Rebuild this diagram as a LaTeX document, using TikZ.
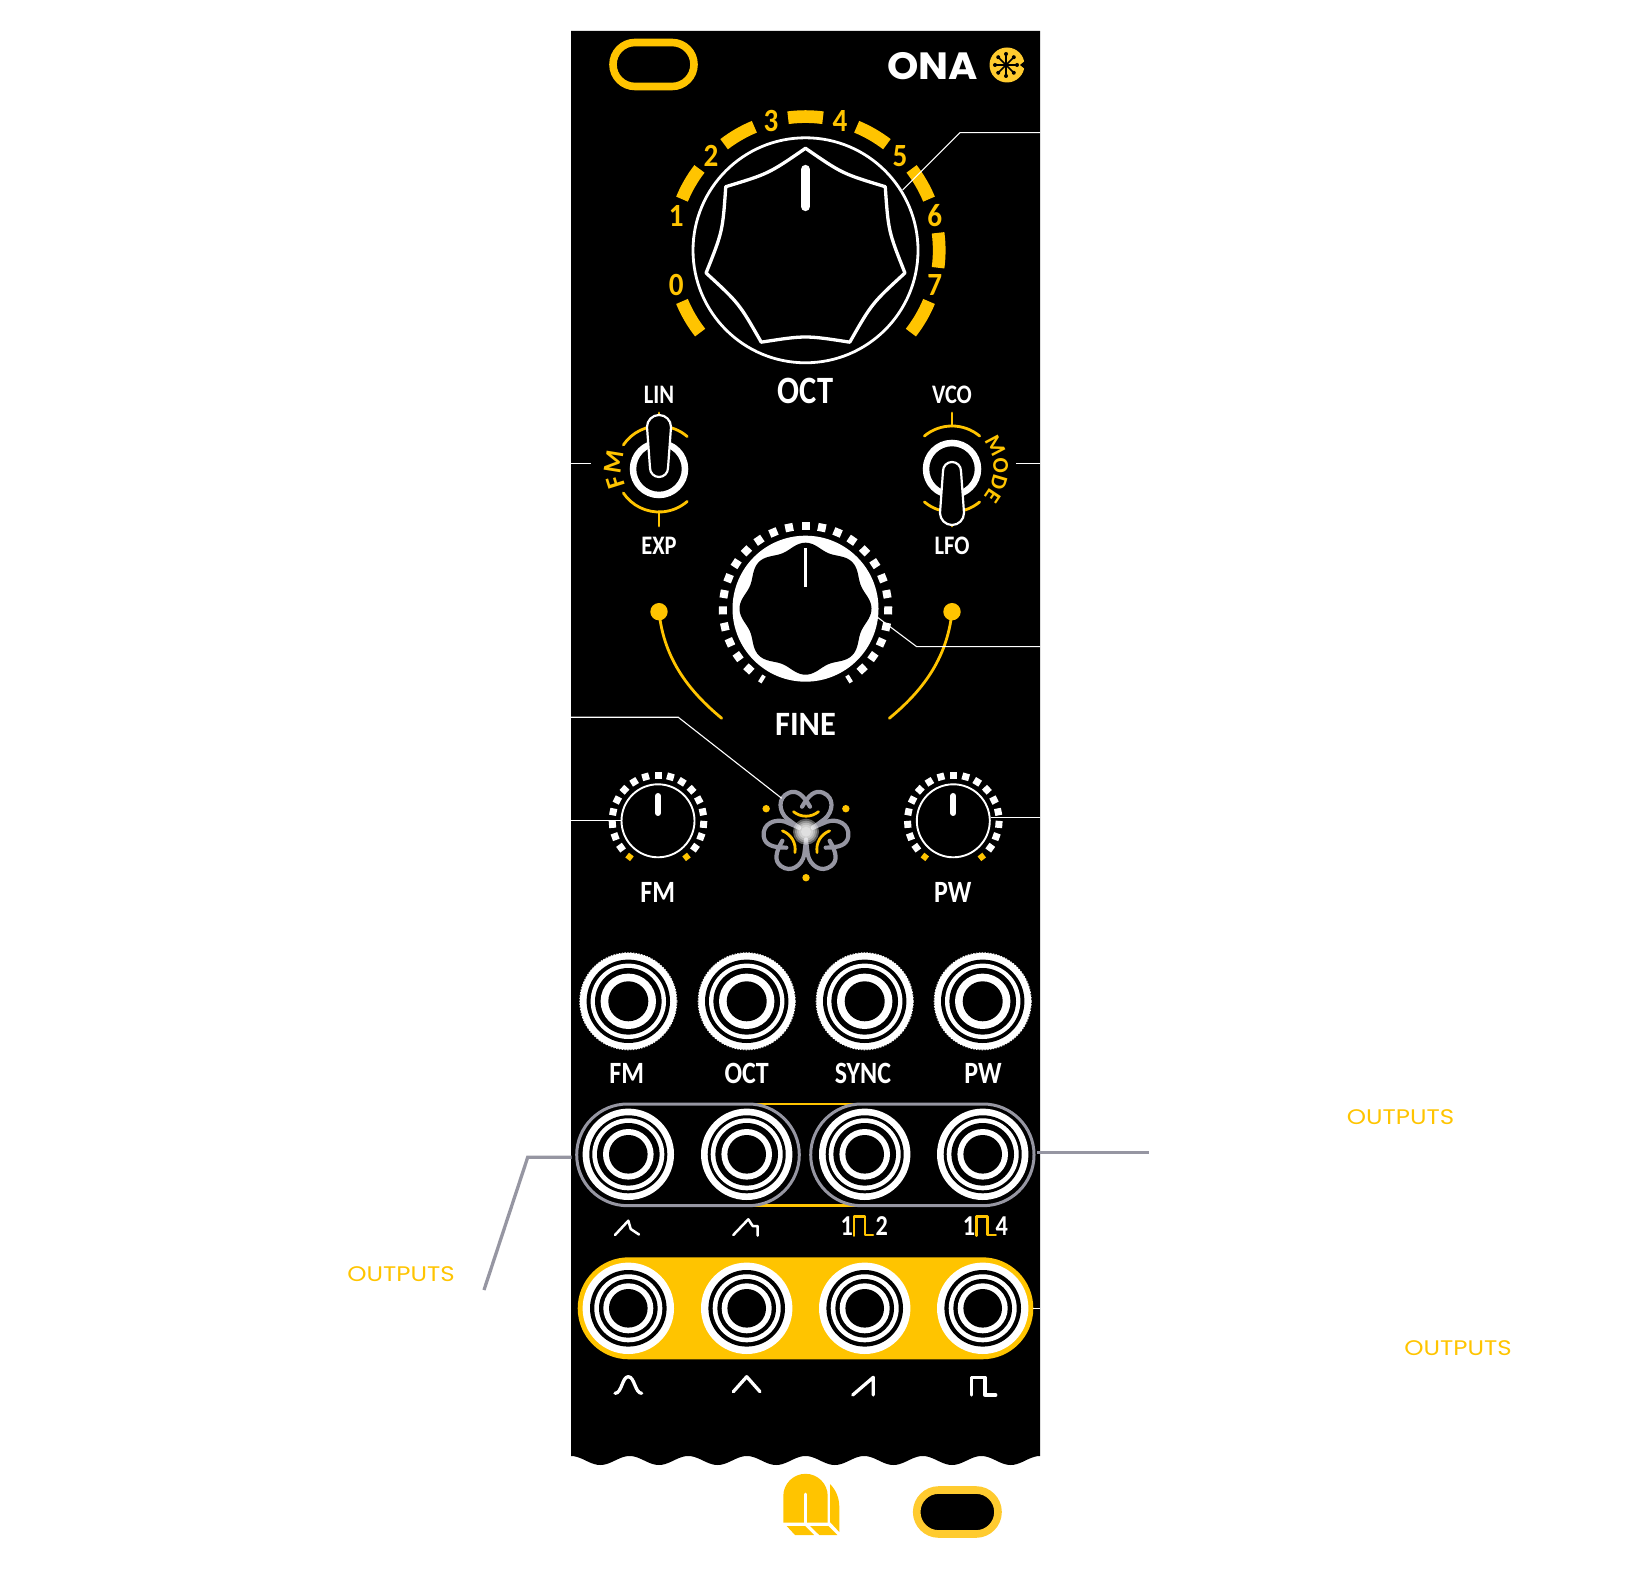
\documentclass[tikz,border=0pt]{standalone}
\usepackage{fontspec}
\setmainfont{Carlito}
\newfontfamily\onafont{Poppins}
\usetikzlibrary{calc}
\usetikzlibrary{decorations.text}
\definecolor{oyellow}{HTML}{FFC400}
\definecolor{olight}{HTML}{FFCB2F}
\definecolor{ogray}{HTML}{9696A2}
\def\px{0.2845pt}
\newcommand{\fsz}[1]{\fontsize{#1}{#1}\selectfont}
\newcommand{\jack}[3]{\foreach \r/\c in {#3}{\fill[\c] (#1,#2) circle[radius=\r];}}
\tikzset{
    toplab/.style = {text=white,inner sep=0pt,xscale=.84,font=\bfseries\fsz{11}},
    finelab/.style = {text=white,inner sep=0pt,xscale=.95,font=\bfseries\fsz{9.7}},
    smalllab/.style = {text=white,inner sep=0pt,xscale=.84,font=\bfseries\fsz{8.8}},
    tinylab/.style = {text=white,inner sep=0pt,xscale=.84,font=\bfseries\fsz{7.6}},
    digit/.style = {text=oyellow,inner sep=0pt,xscale=.9,font=\bfseries\fsz{9.2}},
    outlab/.style = {text=oyellow,inner sep=0pt,xscale=1.16,font=\onafont\fsz{6}},
    callout/.style = {white,line width=1.1*\px},
    graycall/.style = {ogray,line width=3.3*\px},
    ringseg/.style = {oyellow,line width=12.7*\px},
    yline/.style = {oyellow,line width=2.8*\px,line cap=round},
    wline/.style = {white,line width=2.5*\px,line cap=round,line join=round},
    wfat/.style = {white,line width=3.3*\px,line cap=round,line join=round},
    slot/.style = {fill=black,line width=7.6*\px,rounded corners=22*0.01cm},
    capsule/.style = {ogray,line width=3*\px,rounded corners=50.8*0.01cm},
    lever/.style = {fill=black,draw=white,line width=2.2*\px}}
\begin{document}
\begin{tikzpicture}[x=0.01cm,y=0.01cm]
        \useasboundingbox (0,0) rectangle (1637,-1583);
        \fill[black] (571,-31) -- (1040,-31) -- (1040,-1456)
            -- plot[domain=1040:571,samples=161] (\x,{-1460.5+4.5*cos(6.1407*(\x-571))}) -- cycle;
        \draw[slot,draw=oyellow] (613,-42.5) rectangle (694,-86.5);
        \draw[slot,draw=olight] (916.7,-1490) rectangle (998,-1534);
        \node[text=white,inner sep=0pt,xscale=1.05,font=\onafont\bfseries\fsz{10.8}] (ona) at (933,-66) {ONA};
        \fill[olight] (1007,-65) circle[radius=17.5];
        \fill[black] (1025,-61) -- (1020,-65) -- (1025,-69) -- cycle;
        \foreach \a in {0,45,...,315}{
            \draw[black,line width=1.5*\px] (1006,-65) -- ++(\a:11);
            \fill[black] (1006,-65) ++(\a:11) circle[radius=2];}
        % big knob
        \coordinate (octK) at (805.5,-250.3);
        \begin{scope}[shift={(octK)}]
            \foreach \a in {0,30,...,150}{
                \draw[ringseg] (\a-7.5:133.7) arc[start angle=\a-7.5,end angle=\a+7.5,radius=133.7];}
            \draw[ringseg] (-22.5:133.7) arc[start angle=-22.5,end angle=-38,radius=133.7];
            \draw[ringseg] (202.5:133.7) arc[start angle=202.5,end angle=218,radius=133.7];
            \foreach \t/\a in {0/195,1/165,2/135,3/105,4/75,5/45,6/15,7/-15}{
                \node[digit] (dig\t) at (\a:133.7) {\t};}
            \draw[white,line width=2.8*\px] (0,0) circle[radius=112.5];
            \draw[white,line width=3.3*\px,line join=round] (90:102)
                \foreach \a in {90,38.57,-12.86,-64.29,-115.71,-167.14,141.43}{
                    .. controls (\a-25.71:85) .. (\a-51.43:102)} -- cycle;
            \draw[white,line width=9.3*\px,line cap=round] (0,80.8) -- (0,43.8);
        \end{scope}
        \coordinate (octA) at (1040,-132.7);
        \coordinate (octB) at (960,-132.7);
        \coordinate (octC) at (902.7,-190);
        \draw[callout] (octA) -- (octB) -- (octC);
        \node[toplab] (octlab) at (805.5,-390.5) {OCT};
        \node[tinylab] (linlab) at (659,-395) {LIN};
        \node[tinylab] (vcolab) at (952,-395) {VCO};
        \node[tinylab] (explab) at (659,-546) {EXP};
        \node[tinylab] (lfolab) at (952,-546) {LFO};
        % toggles
        \foreach \x/\p/\q in {659/146/49,952/130/50}{
            \draw[yline] (\x,-469) ++(\p:43) arc[start angle=\p,end angle=\q,radius=43];
            \draw[yline] (\x,-469) ++(-\p:43) arc[start angle=-\p,end angle=-\q,radius=43];
            \draw[yline] (\x,-413) -- (\x,-426);
            \draw[yline] (\x,-512) -- (\x,-526);
            \draw[white,line width=6.5*\px] (\x,-469) circle[radius=26];}
        \draw[lever] (647,-427) arc[start angle=180,end angle=0,radius=12]
            -- (668,-468) arc[start angle=0,end angle=-180,radius=9] -- cycle;
        \draw[lever] (943,-471) arc[start angle=180,end angle=0,radius=9]
            -- (964,-513) arc[start angle=0,end angle=-180,radius=12] -- cycle;
        \path[decorate,decoration={text along path,text align=center,
            text={|\bfseries\fsz{7.4}\color{oyellow}|FM}}]
            (659,-469) ++(235:37.5) arc[start angle=235,end angle=125,radius=37.5];
        \path[decorate,decoration={text along path,text align=center,
            text={|\bfseries\fsz{6.4}\color{oyellow}|MODE}}]
            (952,-469) ++(70:41.5) arc[start angle=70,end angle=-70,radius=41.5];
        \draw[callout] (571,-463.7) coordinate (fmL) -- (591,-463.7) coordinate (fmR);
        \draw[callout] (1016,-463.7) coordinate (modeL) -- (1040,-463.7) coordinate (modeR);
        % fine knob
        \coordinate (fineK) at (805.5,-608.7);
        \begin{scope}[shift={(fineK)}]
            \fill[white] (0,0) circle[radius=73];
            \fill[black] plot[domain=0:360,samples=161,smooth] (\x:{63+3*cos(8*\x)}) -- cycle;
            \foreach \i in {-12,...,12}{
                \draw[white,line width=8*\px] (90+\i*11.4:78.7) -- (90+\i*11.4:86.7);}
            \draw[white,line width=4*\px] (90+13*11.4:78.7) -- (90+13*11.4:86.7);
            \draw[white,line width=4*\px] (90-13*11.4:78.7) -- (90-13*11.4:86.7);
            \draw[white,line width=3.4*\px] (0,60.7) -- (0,21.7);
        \end{scope}
        \coordinate (fineA) at (1040,-646.7);
        \coordinate (fineB) at (916.7,-646.7);
        \coordinate (fineC) at (876.7,-616.7);
        \coordinate (dotL) at (659,-611.7);
        \coordinate (dotR) at (952,-611.7);
        \fill[oyellow] (dotL) circle[radius=8.7];
        \fill[oyellow] (dotR) circle[radius=8.7];
        \coordinate (endL) at (721.7,-718.3);
        \coordinate (endR) at (889.3,-718.3);
        \draw[yline] (dotL) .. controls (664,-660) and (690,-692) .. (endL);
        \draw[yline] (dotR) .. controls (947,-660) and (921,-692) .. (endR);
        \draw[callout] (fineA) -- (fineB) -- (fineC);
        \node[finelab] (finelab) at (805.5,-724) {FINE};
        % small knobs
        \foreach \n/\x in {fm/658,pw/953.3}{
            \coordinate (\n K) at (\x,-820.8);
            \begin{scope}[shift={(\n K)}]
                \draw[white,line width=1.9*\px] (0,0) circle[radius=36.5];
                \draw[white,line width=6*\px,line cap=round] (0,24.8) -- (0,7.8);
                \foreach \i in {-8,...,8}{
                    \draw[white,line width=7*\px] (90+\i*15.75:42.2) -- (90+\i*15.75:49.2);}
                \draw[oyellow,line width=6*\px] (90+9*15.75:43) -- (90+9*15.75:49);
                \draw[oyellow,line width=6*\px] (90-9*15.75:43) -- (90-9*15.75:49);
            \end{scope}}
        \coordinate (fmA) at (571,-820.7);
        \coordinate (fmB) at (620.7,-820.7);
        \coordinate (pwA) at (1040,-817.7);
        \coordinate (pwB) at (990.7,-817.7);
        \draw[callout] (fmA) -- (fmB);
        \draw[callout] (pwA) -- (pwB);
        \node[smalllab] (fmlab) at (657.7,-892.7) {FM};
        \node[smalllab] (pwlab) at (952.7,-892.7) {PW};
        % triskel
        \coordinate (triK) at (806,-831.7);
        \begin{scope}[shift={(triK)}]
            \foreach \a in {0,120,240}{
                \begin{scope}[rotate=\a]
                    \draw[ogray,line width=4.2*\px,line cap=round,line join=round]
                        (-7,4) -- (-19,13) .. controls (-27,20) and (-29,34) .. (-17,39)
                        .. controls (-9,42) and (-3,37) .. (4,25)
                        (7,4) -- (19,13) .. controls (27,20) and (29,34) .. (17,39)
                        .. controls (9,42) and (3,37) .. (-4,25);
                \end{scope}}
            \foreach \r in {13,11,9,7,5}{
                \fill[white,opacity=.35] (0,0) circle[radius=\r];}
            \foreach \a in {0,120,240}{
                \begin{scope}[rotate=\a]
                    \draw[oyellow,line width=2.8*\px,line cap=round]
                        (-12.5,20) .. controls (-5,14) and (5,14) .. (12.5,20);
                \end{scope}}
            \foreach \a in {30,150,-90}{
                \fill[oyellow] (\a:46) circle[radius=3.7];}
        \end{scope}
        \coordinate (triA) at (571,-717.3);
        \coordinate (triB) at (678.3,-717.3);
        \coordinate (triC) at (781.7,-798.3);
        \draw[callout] (triA) -- (triB) -- (triC);
        % jacks
        \foreach \x in {628.3,746.7,864.7,982.7}{
            \jack{\x}{-1001.3}{48.4/white,41.7/black,37.7/white,33.3/black,27.7/white,20/black}
            \draw[white,line width=.8*\px,dash pattern=on .4pt off .4pt] (\x,-1001.3) circle[radius=48.6];}
        \node[smalllab] (jfm) at (626.7,-1073.3) {FM};
        \node[smalllab] (joct) at (746.7,-1073.3) {OCT};
        \node[smalllab] (jsync) at (863,-1073.3) {SYNC};
        \node[smalllab] (jpw) at (983,-1073.3) {PW};
        \draw[oyellow,line width=2.5*\px] (750,-1104) -- (860,-1104) (750,-1205.7) -- (860,-1205.7);
        \foreach \x in {628.3,746.7,864.7,982.7}{
            \jack{\x}{-1154.3}{45.7/white,39/black,36/white,31.3/black,25.3/white,19.3/black}}
        \draw[capsule] (576.7,-1104) rectangle (799.3,-1205.7);
        \draw[capsule] (810.7,-1104) rectangle (1034,-1205.7);
        \fill[oyellow,rounded corners=51*0.01cm] (577.7,-1257.3) rectangle (1033.3,-1359.3);
        \foreach \x in {628.3,746.7,864.7,982.7}{
            \jack{\x}{-1308.3}{45.7/white,38.3/black,34/white,29.3/black,25/white,19.3/black}}
        % callouts to the outputs
        \coordinate (outA) at (571.7,-1157.3);
        \coordinate (outB) at (527.7,-1157.3);
        \coordinate (outC) at (484,-1290);
        \draw[graycall] (outA) -- (outB) -- (outC);
        \coordinate (outD) at (1037,-1152.3);
        \coordinate (outE) at (1149,-1152.3);
        \draw[graycall] (outD) -- (outE);
        \coordinate (outF) at (1033.3,-1308.3);
        \coordinate (outG) at (1040,-1308.3);
        \draw[callout] (outF) -- (outG);
        \node[outlab] (outL) at (401,-1273.7) {OUTPUTS};
        \node[outlab] (outT) at (1400.5,-1117.5) {OUTPUTS};
        \node[outlab] (outR) at (1458,-1348) {OUTPUTS};
        % wave icons
        \draw[wline] (615,-1235) -- (628.3,-1220.7) -- (630.7,-1229) -- (639,-1234.5);
        \draw[wline] (733.3,-1235) -- (748.3,-1219.3) -- (752.7,-1226) -- (757.7,-1226) -- (757.7,-1235.7);
        \node[smalllab,font=\bfseries\fsz{8.2}] (one2) at (846.7,-1225.7) {1};
        \node[smalllab,font=\bfseries\fsz{8.2}] (two2) at (881.7,-1225.7) {2};
        \draw[oyellow,line width=2.5*\px,line cap=round,line join=round] (854,-1235.7) -- (854,-1216.7) -- (865,-1216.7) -- (865,-1235) -- (873,-1235);
        \node[smalllab,font=\bfseries\fsz{8.2}] (one4) at (969,-1225.7) {1};
        \node[smalllab,font=\bfseries\fsz{8.2}] (four4) at (1001.7,-1225.7) {4};
        \draw[oyellow,line width=2.5*\px,line cap=round,line join=round] (976.7,-1235.7) -- (976.7,-1216.7) -- (987.3,-1216.7) -- (987.3,-1235) -- (995.7,-1235);
        \draw[wfat] (615,-1393.3) .. controls (622,-1393.3) and (622,-1376.7) .. (628.3,-1376.7)
            .. controls (634.6,-1376.7) and (635,-1393.3) .. (641.7,-1393.3);
        \draw[wfat] (733.3,-1391.7) -- (746.7,-1376.7) -- (760,-1391.7);
        \draw[wfat] (852.7,-1395) -- (873.3,-1377.3) -- (873.3,-1395);
        \draw[wfat] (971.7,-1395) -- (971.7,-1377.3) -- (985,-1377.3) -- (985,-1395) -- (995.7,-1395);
        % maker logo
        \fill[oyellow] (783.3,-1522.7) -- (783.3,-1496) arc[start angle=180,end angle=0,radius=22.2] -- (827.7,-1522.7) -- cycle;
        \draw[white,line width=2.8*\px,line cap=round] (805.3,-1494) -- (805.3,-1525);
        \fill[oyellow] (830,-1484) .. controls (836,-1490) and (839.3,-1498) .. (839.3,-1507) -- (839.3,-1532) -- (830,-1522) -- cycle;
        \fill[oyellow] (786.7,-1526) -- (805,-1526) -- (814,-1535) -- (795,-1535) -- cycle;
        \fill[oyellow] (810,-1526) -- (828.3,-1526) -- (837.3,-1535) -- (819.3,-1535) -- cycle;
\end{tikzpicture}
\end{document}
